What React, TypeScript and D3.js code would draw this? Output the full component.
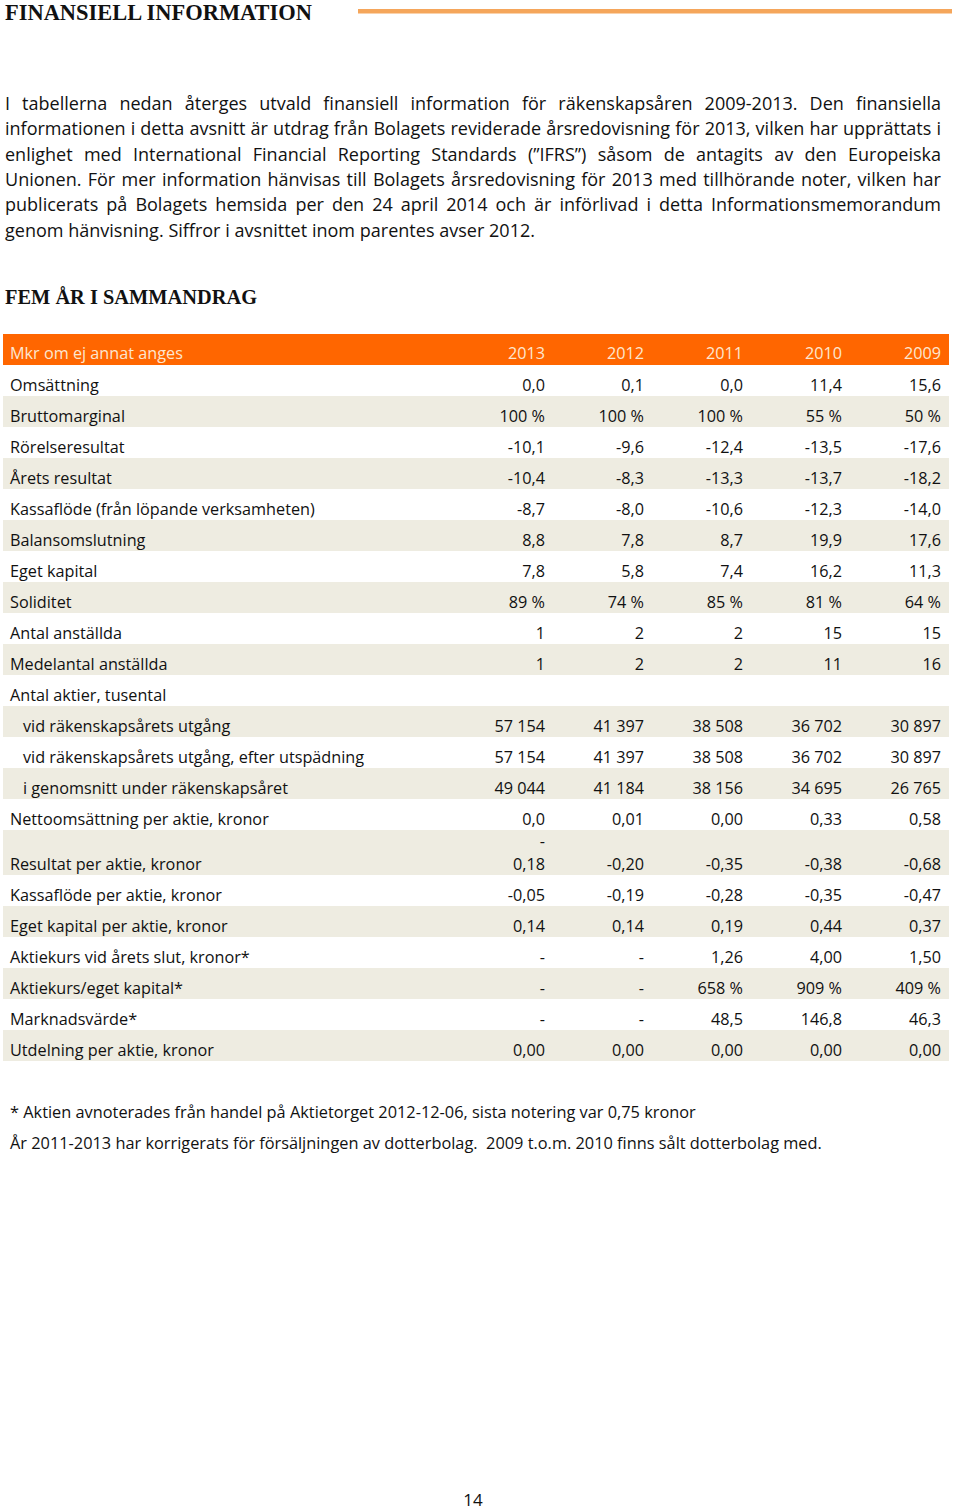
import React, { useEffect, useRef } from "react";
import * as d3 from "d3";

const pageTitle = "FINANSIELL INFORMATION";
const sectionTitle = "FEM ÅR I SAMMANDRAG";
const pageNumber = "14";

const paragraphLines = [
  "I tabellerna nedan återges utvald finansiell information för räkenskapsåren 2009-2013. Den finansiella",
  "informationen i detta avsnitt är utdrag från Bolagets reviderade årsredovisning för 2013, vilken har upprättats i",
  "enlighet med International Financial Reporting Standards (”IFRS”) såsom de antagits av den Europeiska",
  "Unionen. För mer information hänvisas till Bolagets årsredovisning för 2013 med tillhörande noter, vilken har",
  "publicerats på Bolagets hemsida per den 24 april 2014 och är införlivad i detta Informationsmemorandum",
  "genom hänvisning. Siffror i avsnittet inom parentes avser 2012.",
];

const headerLabel = "Mkr om ej annat anges";
const years = ["2013", "2012", "2011", "2010", "2009"];

const rowLabels = [
  "Omsättning",
  "Bruttomarginal",
  "Rörelseresultat",
  "Årets resultat",
  "Kassaflöde (från löpande verksamheten)",
  "Balansomslutning",
  "Eget kapital",
  "Soliditet",
  "Antal anställda",
  "Medelantal anställda",
  "Antal aktier, tusental",
  "vid räkenskapsårets utgång",
  "vid räkenskapsårets utgång, efter utspädning",
  "i genomsnitt under räkenskapsåret",
  "Nettoomsättning per aktie, kronor",
  "Resultat per aktie, kronor",
  "Kassaflöde per aktie, kronor",
  "Eget kapital per aktie, kronor",
  "Aktiekurs vid årets slut, kronor*",
  "Aktiekurs/eget kapital*",
  "Marknadsvärde*",
  "Utdelning per aktie, kronor",
];
const indentedRows = [11, 12, 13];
const wrappedRows = [15];

const col2013 = ["0,0", "100 %", "-10,1", "-10,4", "-8,7", "8,8", "7,8", "89 %", "1", "1", "", "57 154", "57 154", "49 044", "0,0", "-\n0,18", "-0,05", "0,14", "-", "-", "-", "0,00"];
const col2012 = ["0,1", "100 %", "-9,6", "-8,3", "-8,0", "7,8", "5,8", "74 %", "2", "2", "", "41 397", "41 397", "41 184", "0,01", "-0,20", "-0,19", "0,14", "-", "-", "-", "0,00"];
const col2011 = ["0,0", "100 %", "-12,4", "-13,3", "-10,6", "8,7", "7,4", "85 %", "2", "2", "", "38 508", "38 508", "38 156", "0,00", "-0,35", "-0,28", "0,19", "1,26", "658 %", "48,5", "0,00"];
const col2010 = ["11,4", "55 %", "-13,5", "-13,7", "-12,3", "19,9", "16,2", "81 %", "15", "11", "", "36 702", "36 702", "34 695", "0,33", "-0,38", "-0,35", "0,44", "4,00", "909 %", "146,8", "0,00"];
const col2009 = ["15,6", "50 %", "-17,6", "-18,2", "-14,0", "17,6", "11,3", "64 %", "15", "16", "", "30 897", "30 897", "26 765", "0,58", "-0,68", "-0,47", "0,37", "1,50", "409 %", "46,3", "0,00"];
const columns = [col2013, col2012, col2011, col2010, col2009];

const footnotes = [
  "* Aktien avnoterades från handel på Aktietorget 2012-12-06, sista notering var 0,75 kronor",
  "År 2011-2013 har korrigerats för försäljningen av dotterbolag.  2009 t.o.m. 2010 finns sålt dotterbolag med.",
];

const SANS = "'Open Sans', Lato, sans-serif";
const SERIF = "'Liberation Serif', 'DejaVu Serif', serif";

export default function App() {
  const ref = useRef<SVGSVGElement>(null);

  useEffect(() => {
    const svg = d3.select(ref.current);
    svg.selectAll("*").remove();

    // pick a font size so that a sample string spans a target width
    const fit = (sample: string, target: number, base = 16) => {
      const t = svg.append("text").attr("font-family", SANS).attr("font-size", base).text(sample);
      const w = (t.node() as SVGTextElement).getComputedTextLength();
      t.remove();
      return (base * target) / w;
    };

    // Title
    svg.append("text")
      .attr("x", 5).attr("y", 20)
      .attr("font-family", SERIF).attr("font-weight", "bold").attr("font-size", 23.5)
      .attr("textLength", 307).attr("lengthAdjust", "spacingAndGlyphs")
      .attr("fill", "#111")
      .text(pageTitle);
    svg.append("rect")
      .attr("x", 358).attr("y", 9).attr("width", 594).attr("height", 4.5)
      .attr("fill", "#F5A65B");

    // Justified paragraph
    const paraLeft = 5, paraRight = 941, paraTop = 110, lineGap = 25.3;
    const paraSize = fit(paragraphLines[paragraphLines.length - 1], 530);
    const para = svg.append("g").attr("font-family", SANS).attr("font-size", paraSize).attr("fill", "#111");
    paragraphLines.forEach((line, li) => {
      const words = line.split(" ");
      const y = paraTop + li * lineGap;
      const nodes = words.map((w) =>
        para.append("text").attr("y", y).text(w).node() as SVGTextElement
      );
      const widths = nodes.map((n) => n.getComputedTextLength());
      const total = d3.sum(widths);
      const last = li === paragraphLines.length - 1;
      const gap = last ? (530 - total) / (words.length - 1) : (paraRight - paraLeft - total) / (words.length - 1);
      let x = paraLeft;
      nodes.forEach((n, i) => {
        d3.select(n).attr("x", x);
        x += widths[i] + gap;
      });
    });

    // Section heading
    svg.append("text")
      .attr("x", 5).attr("y", 304)
      .attr("font-family", SERIF).attr("font-weight", "bold").attr("font-size", 20.5)
      .attr("textLength", 252).attr("lengthAdjust", "spacingAndGlyphs")
      .attr("fill", "#111")
      .text(sectionTitle);

    // Table
    const tableLeft = 3, tableRight = 949, headerTop = 334, rowH = 31, tallH = 45;
    const fs = fit(rowLabels[4], 305);
    const xRight = d3.scaleLinear().domain([0, years.length - 1]).range([545, 941]);
    const heights = rowLabels.map((_, i) => (wrappedRows.includes(i) ? tallH : rowH));
    const tops: number[] = [];
    let acc = headerTop + rowH;
    heights.forEach((h) => { tops.push(acc); acc += h; });

    const table = svg.append("g").attr("font-family", SANS).attr("font-size", fs);

    table.append("rect")
      .attr("x", tableLeft).attr("y", headerTop).attr("width", tableRight - tableLeft).attr("height", rowH)
      .attr("fill", "#FF6600");
    table.append("text")
      .attr("x", 10).attr("y", headerTop + rowH - 6)
      .attr("fill", "#FDE6D0").text(headerLabel);
    years.forEach((yr, j) => {
      table.append("text")
        .attr("x", xRight(j)).attr("y", headerTop + rowH - 6)
        .attr("text-anchor", "end").attr("fill", "#FDE6D0").text(yr);
    });

    rowLabels.forEach((label, i) => {
      const top = tops[i], h = heights[i];
      if (i % 2 === 1) {
        table.append("rect")
          .attr("x", tableLeft).attr("y", top).attr("width", tableRight - tableLeft).attr("height", h)
          .attr("fill", "#EEECE1");
      }
      const base = top + h - 5.5;
      table.append("text")
        .attr("x", indentedRows.includes(i) ? 23 : 10).attr("y", base)
        .attr("fill", "#111").text(label);
      columns.forEach((col, j) => {
        const parts = col[i].split("\n");
        parts.forEach((p, k) => {
          table.append("text")
            .attr("x", xRight(j)).attr("y", base - (parts.length - 1 - k) * 23)
            .attr("text-anchor", "end").attr("fill", "#111").text(p);
        });
      });
    });

    // Footnotes
    const noteSize = fit(footnotes[0], 686);
    footnotes.forEach((f, i) => {
      svg.append("text")
        .attr("x", 10).attr("y", 1118 + i * 31)
        .attr("font-family", SANS).attr("font-size", noteSize).attr("fill", "#111")
        .attr("xml:space", "preserve").style("white-space", "pre")
        .text(f);
    });

    // Page number
    svg.append("text")
      .attr("x", 473).attr("y", 1506)
      .attr("text-anchor", "middle")
      .attr("font-family", SANS).attr("font-size", 17).attr("fill", "#111")
      .text(pageNumber);
  }, []);

  return (
    <svg
      ref={ref}
      width={960}
      height={1511}
      style={{ position: "absolute", left: 0, top: 0, background: "#fff" }}
    />
  );
}
